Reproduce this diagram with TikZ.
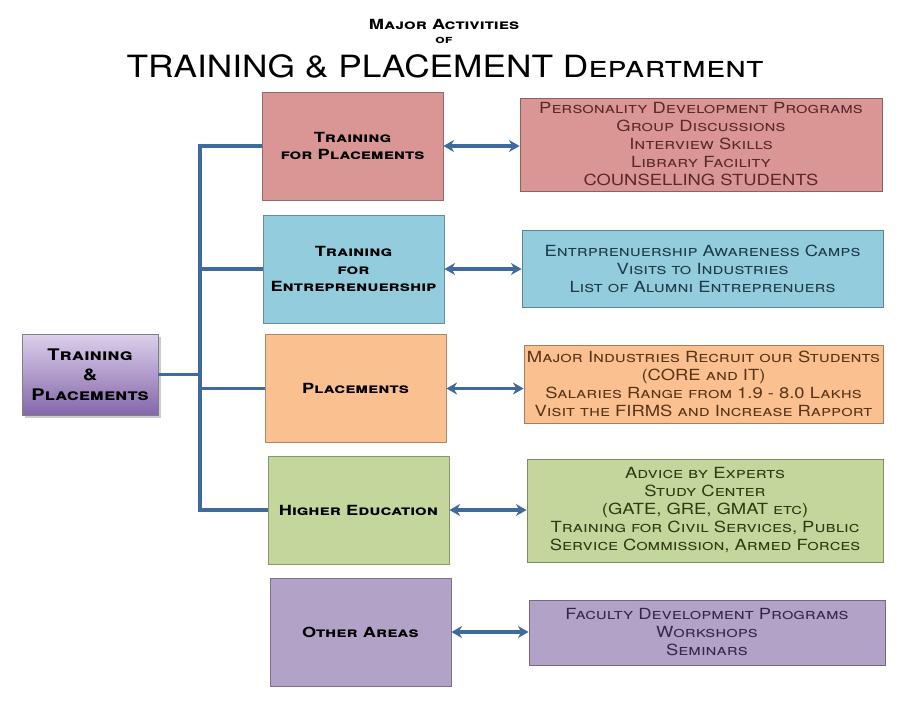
\documentclass[tikz,border=0pt]{standalone}
\usepackage{fontspec}
\setmainfont{TeX Gyre Heros}
\newfontfamily\wideR[FakeStretch=1.2]{TeX Gyre Heros}
\newfontfamily\wideM[FakeStretch=1.3]{TeX Gyre Heros}
\newfontfamily\wideT[FakeStretch=1.15]{TeX Gyre Heros}
\newfontfamily\wideL[FakeStretch=1.25]{TeX Gyre Heros}
\usetikzlibrary{shadows,arrows.meta}
\definecolor{conn}{HTML}{3F6A9E}
\definecolor{cRose}{HTML}{D99694}
\definecolor{cBlue}{HTML}{93CDDD}
\definecolor{cOrange}{HTML}{FAC090}
\definecolor{cGreen}{HTML}{C3D69B}
\definecolor{cPurple}{HTML}{B3A2C7}
\definecolor{gTop}{HTML}{DCD0EC}
\definecolor{gBot}{HTML}{8466AA}
\definecolor{tRose}{HTML}{5A2A2A}
\definecolor{tBlue}{HTML}{1E3A48}
\definecolor{tOrange}{HTML}{5A3418}
\definecolor{tGreen}{HTML}{2F3A14}
\definecolor{tPurple}{HTML}{33284A}
\tikzset{
  midbox/.style={draw=#1!70!black, fill=#1, line width=0.6pt, minimum width=135.75pt, minimum height=81pt,
     align=center, font=\wideM\fontsize{10.5}{13}\selectfont\bfseries\scshape, inner sep=0pt},
  rbox/.style={draw=#1!65!black, fill=#1, line width=0.6pt, align=center, inner sep=0pt,
     font=\wideR\fontsize{11.5}{13.5}\selectfont\scshape},
  link/.style={draw=conn, line width=2.6pt},
  dbl/.style={draw=conn, line width=2.6pt, {Stealth[length=8pt,width=9pt]}-{Stealth[length=8pt,width=9pt]}}
}
\begin{document}
\begin{tikzpicture}[x=0.75pt,y=-0.75pt]
\useasboundingbox (0,0) rectangle (909,709);
% title
\node (t1) at (444,24) {\wideM\fontsize{10.5}{11}\selectfont\bfseries\scshape Major Activities};
\node (t2) at (444,40) {\wideM\fontsize{8.5}{9}\selectfont\bfseries\scshape of};
\node (t3) at (445,66) {\wideT\fontsize{23}{26}\selectfont\scshape TRAINING \& PLACEMENT Department};
% left box
\node[draw=black!50, top color=gTop, bottom color=gBot, drop shadow={opacity=0.4},
  minimum width=102pt, minimum height=60.75pt, align=center, inner sep=0pt,
  font=\wideL\fontsize{12}{15}\selectfont\bfseries\scshape] (tp) at (90,374.5) {Training\\\&\\Placements};
% middle boxes
\node[midbox=cRose] (m1) at (352.5,146) {Training\\for Placements};
\node[midbox=cBlue] (m2) at (353.5,269) {Training\\for\\Entreprenuership};
\node[midbox=cOrange] (m3) at (355.5,388.5) {Placements};
\node[midbox=cGreen] (m4) at (358.5,510) {Higher Education};
\node[midbox=cPurple] (m5) at (360.5,632) {Other Areas};
% right boxes
\node[rbox=cRose, minimum width=271.5pt, minimum height=69.75pt, text=tRose] (r1) at (701,144.5)
  {Personality Development Programs\\Group Discussions\\Interview Skills\\Library Facility\\COUNSELLING STUDENTS};
\node[rbox=cBlue, minimum width=270.75pt, minimum height=57.75pt, text=tBlue] (r2) at (702.5,268.5)
  {Entrprenuership Awareness Camps\\Visits to Industries\\List of Alumni Entreprenuers};
\node[rbox=cOrange, minimum width=269.25pt, minimum height=58.5pt, text=tOrange] (r3) at (703.5,384)
  {Major Industries Recruit our Students\\(CORE and IT)\\Salaries Range from 1.9 - 8.0 Lakhs\\Visit the FIRMS and Increase Rapport};
\node[rbox=cGreen, minimum width=267pt, minimum height=77.25pt, text=tGreen] (r4) at (705,510.5)
  {Advice by Experts\\Study Center\\(GATE, GRE, GMAT etc)\\Training for Civil Services, Public\\Service Commission, Armed Forces};
\node[rbox=cPurple, minimum width=267pt, minimum height=48.75pt, text=tPurple] (r5) at (707,632.5)
  {Faculty Development Programs\\Workshops\\Seminars};
% trunk
\coordinate (top) at (200,146);
\coordinate (bot) at (200,510);
\coordinate (mid) at (200,374.5);
\draw[link] (tp.east) -- (mid);
\draw[link, line join=miter] (m1.west) -- (top) -- (bot) -- (m4.west);
\draw[link] (m2.west) -- (m2.west -| top);
\draw[link] (m3.west) -- (m3.west -| top);
% arrows
\draw[dbl] (m1.east) -- (m1.east -| r1.west);
\draw[dbl] (m2.east) -- (m2.east -| r2.west);
\draw[dbl] (m3.east) -- (m3.east -| r3.west);
\draw[dbl] (m4.east) -- (m4.east -| r4.west);
\draw[dbl] (m5.east) -- (m5.east -| r5.west);
\end{tikzpicture}
\end{document}
